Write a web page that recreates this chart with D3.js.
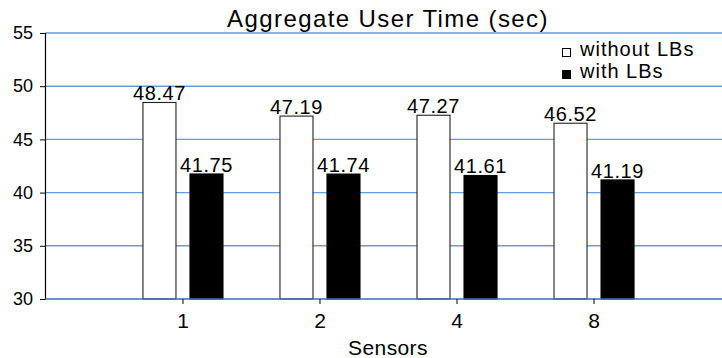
<!DOCTYPE html>
<html>
<head>
<meta charset="utf-8">
<script src="https://cdn.jsdelivr.net/npm/d3@7"></script>
<style>
  html, body { margin: 0; padding: 0; background: #fff; }
  svg text { font-family: Arial, "Liberation Sans", Helvetica, sans-serif; }
</style>
</head>
<body>
<svg id="chart" width="722" height="358"></svg>
<script>
// Aggregate user time per sensor count, with and without LBs
const categories = ["1", "2", "4", "8"];
const seriesNames = ["without LBs", "with LBs"];
const withoutLBs = [48.47, 47.19, 47.27, 46.52];
const withLBs = [41.75, 41.74, 41.61, 41.19];
const yTicks = [30, 35, 40, 45, 50, 55];

const seriesValues = [withoutLBs, withLBs];
const fills = ["#ffffff", "#000000"];
const FONT = 'Arial, "Liberation Sans", Helvetica, sans-serif';

const svg = d3.select("#chart");
const W = 722;

const y = d3.scaleLinear().domain([30, 55]).range([299, 33]);
const x0 = d3.scaleBand().domain(categories).range([45, 732])
  .paddingInner(0.416).paddingOuter(0.715);
const x1 = d3.scaleBand().domain(seriesNames).range([0, x0.bandwidth()])
  .paddingInner(0.298).paddingOuter(0);

// horizontal gridlines
svg.append("g").selectAll("line").data(yTicks.filter(d => d !== 30)).join("line")
  .attr("x1", 45).attr("x2", W)
  .attr("y1", d => y(d)).attr("y2", d => y(d))
  .attr("stroke", "#5f9fe2").attr("stroke-width", 1.4);

// y axis
const yAxis = d3.axisLeft(y).tickValues(yTicks).tickSize(5).tickPadding(7);
const gy = svg.append("g").attr("transform", "translate(45,0)").call(yAxis)
  .attr("font-family", FONT);
gy.select(".domain").attr("stroke", "#000").attr("stroke-width", 1.2);
gy.selectAll(".tick line").attr("stroke", "#000");
gy.selectAll("text").attr("font-size", 18).attr("fill", "#000");

// bars
const groups = svg.append("g").selectAll("g").data(categories).join("g")
  .attr("transform", d => `translate(${x0(d)},0)`);
groups.selectAll("rect").data((c, i) => seriesNames.map((s, k) => ({ s, k, v: seriesValues[k][i] })))
  .join("rect")
  .attr("x", d => x1(d.s))
  .attr("width", x1.bandwidth())
  .attr("y", d => y(d.v))
  .attr("height", d => y(30) - y(d.v))
  .attr("fill", d => fills[d.k])
  .attr("stroke", d => d.k === 0 ? "#222" : "#000")
  .attr("stroke-width", 1.1);

// value labels
groups.selectAll("text").data((c, i) => seriesNames.map((s, k) => ({ s, k, v: seriesValues[k][i] })))
  .join("text")
  .attr("font-family", FONT)
  .attr("x", d => x1(d.s) + x1.bandwidth() / 2)
  .attr("y", d => y(d.v) - 2)
  .attr("text-anchor", "middle")
  .attr("font-size", 20)
  .attr("letter-spacing", 0.6)
  .attr("fill", "#000")
  .text(d => d.v.toFixed(2));

// x baseline and axis
svg.append("line").attr("x1", 45).attr("x2", W).attr("y1", y(30)).attr("y2", y(30))
  .attr("stroke", "#3c70b0").attr("stroke-width", 1.6);
const xAxis = d3.axisBottom(x0).tickSize(5).tickPadding(9);
const gx = svg.append("g").attr("transform", `translate(0,${y(30)})`).call(xAxis)
  .attr("font-family", FONT);
gx.select(".domain").remove();
gx.selectAll(".tick line").attr("stroke", "#000");
gx.selectAll("text").attr("font-size", 21).attr("fill", "#000");

// axis title
svg.append("text").attr("font-family", FONT).attr("x", 388).attr("y", 355)
  .attr("text-anchor", "middle").attr("font-size", 21).attr("letter-spacing", 0.4)
  .attr("fill", "#000").text("Sensors");

// chart title
svg.append("text").attr("font-family", FONT).attr("x", 388).attr("y", 27)
  .attr("text-anchor", "middle").attr("font-size", 24).attr("letter-spacing", 1.4)
  .attr("fill", "#000").text("Aggregate User Time (sec)");

// legend
const legend = svg.append("g").selectAll("g").data(seriesNames).join("g")
  .attr("transform", (d, i) => `translate(562,${56 + i * 22})`);
legend.append("rect").attr("x", 0.5).attr("y", -7.5).attr("width", 8).attr("height", 8)
  .attr("fill", (d, i) => fills[i]).attr("stroke", "#000").attr("stroke-width", 1);
legend.append("text").attr("font-family", FONT).attr("x", 18).attr("y", 0)
  .attr("font-size", 20).attr("letter-spacing", 1.0).attr("fill", "#000").text(d => d);
</script>
</body>
</html>
